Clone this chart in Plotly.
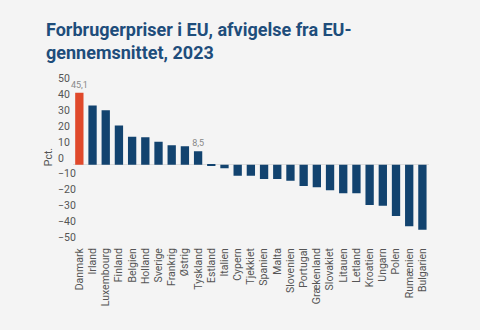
import plotly.graph_objects as go

countries = ["Danmark", "Irland", "Luxembourg", "Finland", "Belgien", "Holland", "Sverige",
             "Frankrig", "Østrig", "Tyskland", "Estland", "Italien", "Cypern", "Tjekkiet",
             "Spanien", "Malta", "Slovenien", "Portugal", "Grækenland", "Slovakiet", "Litauen",
             "Letland", "Kroatien", "Ungarn", "Polen", "Rumænien", "Bulgarien"]
values = [45.1, 37.2, 34.1, 24.7, 17.6, 17.2, 14.4, 12.3, 11.7, 8.5, -0.8, -2.1, -6.9, -6.9,
          -8.8, -8.8, -10.0, -13.2, -14.0, -15.9, -17.8, -17.8, -25.1, -25.7, -32.0, -38.5, -40.6]
value_labels = ["45,1", "", "", "", "", "", "", "", "", "8,5"] + [""] * 17
highlight = "Danmark"

NAVY = "#12436f"
RED = "#e0492b"
BG = "#f4f4f4"
Y_RANGE = [-50.2, 60]

colors = [RED if c == highlight else NAVY for c in countries]

fig = go.Figure()
fig.add_trace(go.Bar(
    x=countries, y=values, marker_color=colors, marker_line_width=0,
    text=value_labels, textposition="outside", cliponaxis=False, constraintext="none",
    textfont=dict(family="Roboto", size=9, color="#888888"),
    hoverinfo="x+y",
))
# invisible helper trace so the label axis (left-aligned tick labels) is drawn
fig.add_trace(go.Scatter(
    x=countries, y=values, yaxis="y2", mode="markers",
    marker=dict(opacity=0), hoverinfo="skip", showlegend=False,
))

tickfont = dict(family="Roboto", size=10.5, color="#555555")

fig.update_layout(
    width=480, height=330,
    paper_bgcolor=BG, plot_bgcolor=BG,
    margin=dict(l=54, r=51, t=69.4, b=85),
    bargap=0.37,
    showlegend=False,
    title=dict(
        text="<b>Forbrugerpriser i EU, afvigelse fra EU-<br>gennemsnittet, 2023</b>",
        font=dict(family="Roboto", size=18, color="#1e4d7b"),
        x=46 / 480, xanchor="left", y=1 - 36 / 330, yanchor="top",
    ),
    font=dict(family="Roboto", size=11, color="#555555"),
    xaxis=dict(
        domain=[0.05, 1], range=[-0.5, len(countries) - 0.5], dtick=1,
        tickangle=-90, showgrid=False, showline=False, ticks="",
        tickfont=tickfont,
    ),
    yaxis=dict(
        range=Y_RANGE, showgrid=False, showline=False, ticks="", showticklabels=False,
        zeroline=True, zerolinecolor="#dcdcdc", zerolinewidth=1,
    ),
    yaxis2=dict(
        range=Y_RANGE, overlaying="y", anchor="free", position=0, side="left",
        dtick=10, tick0=0, showgrid=False, showline=False, ticks="", zeroline=False,
        ticklabelposition="inside", ticklabelshift=-7,
        tickfont=tickfont,
        title=dict(text="Pct.", font=tickfont, standoff=2),
    ),
)

fig.write_html("out.html")
